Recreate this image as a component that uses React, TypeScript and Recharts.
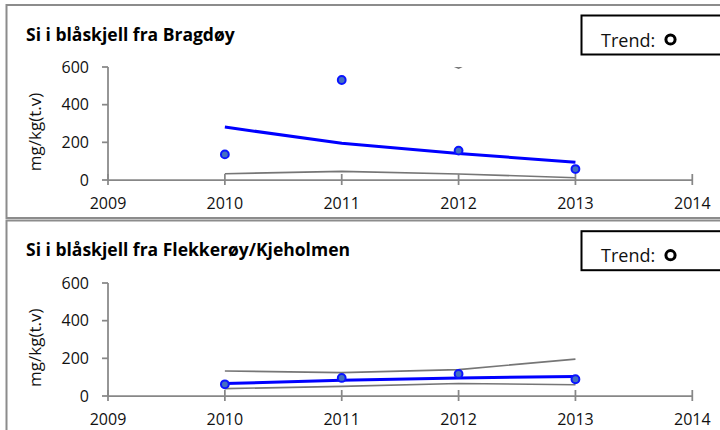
import { ComposedChart, Line, XAxis, YAxis } from 'recharts'

const years = [2010, 2011, 2012, 2013]
const xTicks = [2009, 2010, 2011, 2012, 2013, 2014]
const yTicks = [0, 200, 400, 600]

// Bragdøy
const bragdoyMeasured = [136, 531, 156, 58]
const bragdoyTrend = [281, 195, 141, 94]
const bragdoyLower = [33, 46, 32, 12]
const bragdoyUpper = [1600, 860, 594, 900]

// Flekkerøy/Kjeholmen
const flekkeroyMeasured = [62, 96, 117, 89]
const flekkeroyTrend = [66, 83, 96, 104]
const flekkeroyLower = [39, 51, 66, 60]
const flekkeroyUpper = [133, 124, 140, 196]

const panels = [
  {
    title: 'Si i blåskjell fra Bragdøy',
    measured: bragdoyMeasured,
    trend: bragdoyTrend,
    lower: bragdoyLower,
    upper: bragdoyUpper,
  },
  {
    title: 'Si i blåskjell fra Flekkerøy/Kjeholmen',
    measured: flekkeroyMeasured,
    trend: flekkeroyTrend,
    lower: flekkeroyLower,
    upper: flekkeroyUpper,
  },
]

const FONT = '"Open Sans", "Noto Sans", sans-serif'
const AXIS = '#878787'
const BORDER = '#8c8c8c'
const PANEL_OFFSET = 215.7

function XTick(props: any) {
  const { x, y, payload } = props
  return (
    <g>
      <line x1={x} x2={x} y1={y - 6} y2={y + 5} stroke={AXIS} strokeWidth={1.75} />
      <text x={x} y={y + 29} textAnchor="middle" fontFamily={FONT} fontSize={16} fill="#111">
        {payload.value}
      </text>
    </g>
  )
}

function Panel({ panel, top }: { panel: (typeof panels)[number]; top: number }) {
  const data = years.map((year, i) => ({
    year,
    measured: panel.measured[i],
    trend: panel.trend[i],
    lower: panel.lower[i],
    upper: panel.upper[i],
  }))

  return (
    <div style={{ position: 'absolute', left: 0, top, width: 720, height: 215 }}>
      <ComposedChart width={720} height={215} data={data} margin={{ top: 67, right: 27.7, bottom: 5, left: 48 }}>
        <XAxis
          dataKey="year"
          type="number"
          domain={[2009, 2014]}
          ticks={xTicks}
          height={30}
          axisLine={{ stroke: AXIS, strokeWidth: 1.75 }}
          tickLine={false}
          tickSize={0}
          tickMargin={0}
          tick={<XTick />}
          interval={0}
        />
        <YAxis
          type="number"
          domain={[0, 600]}
          ticks={yTicks}
          allowDataOverflow
          width={60}
          axisLine={{ stroke: AXIS, strokeWidth: 1.75 }}
          tickLine={{ stroke: AXIS, strokeWidth: 1.75 }}
          tickSize={6}
          tickMargin={13}
          tick={{ fontFamily: FONT, fontSize: 16, fill: '#111' }}
          interval={0}
        />
        <Line dataKey="upper" stroke="#767676" strokeWidth={1.6} dot={false} activeDot={false} isAnimationActive={false} />
        <Line dataKey="lower" stroke="#767676" strokeWidth={1.6} dot={false} activeDot={false} isAnimationActive={false} />
        <Line dataKey="trend" stroke="#0000ff" strokeWidth={3} dot={false} activeDot={false} isAnimationActive={false} />
        <Line
          dataKey="measured"
          stroke="none"
          dot={{ r: 3.9, fill: '#4470c0', stroke: '#0a14ff', strokeWidth: 2 }}
          activeDot={false}
          isAnimationActive={false}
        />
      </ComposedChart>
    </div>
  )
}

export default function App() {
  return (
    <div
      style={{
        position: 'absolute',
        left: 0,
        top: 0,
        width: 720,
        height: 430,
        overflow: 'hidden',
        background: '#fff',
      }}
    >
      {panels.map((p, i) => (
        <Panel key={p.title} panel={p} top={i * PANEL_OFFSET} />
      ))}
      <svg width={720} height={430} style={{ position: 'absolute', left: 0, top: 0, pointerEvents: 'none' }}>
        <rect x={6.5} y={5} width={800} height={213} fill="none" stroke={BORDER} strokeWidth={2} />
        <rect x={6.5} y={220.5} width={800} height={300} fill="none" stroke={BORDER} strokeWidth={2} />
        {panels.map((p, i) => {
          const dy = i * PANEL_OFFSET
          return (
            <g key={p.title}>
              <text x={26} y={40.5 + dy} fontFamily={FONT} fontSize={17.5} fontWeight="bold" fill="#000">
                {p.title}
              </text>
              <text
                transform={`translate(40.5, ${132 + dy}) rotate(-90)`}
                textAnchor="middle"
                fontFamily={FONT}
                fontSize={17}
                fill="#111"
              >
                mg/kg(t.v)
              </text>
              <rect x={581.5} y={15.5 + dy} width={200} height={39} fill="#fff" stroke="#000" strokeWidth={2} />
              <text x={601} y={46.5 + dy} fontFamily={FONT} fontSize={18} fill="#111">
                Trend:
              </text>
              <circle cx={670.5} cy={39.5 + dy} r={4.6} fill="#fff" stroke="#000" strokeWidth={3} />
            </g>
          )
        })}
      </svg>
    </div>
  )
}
